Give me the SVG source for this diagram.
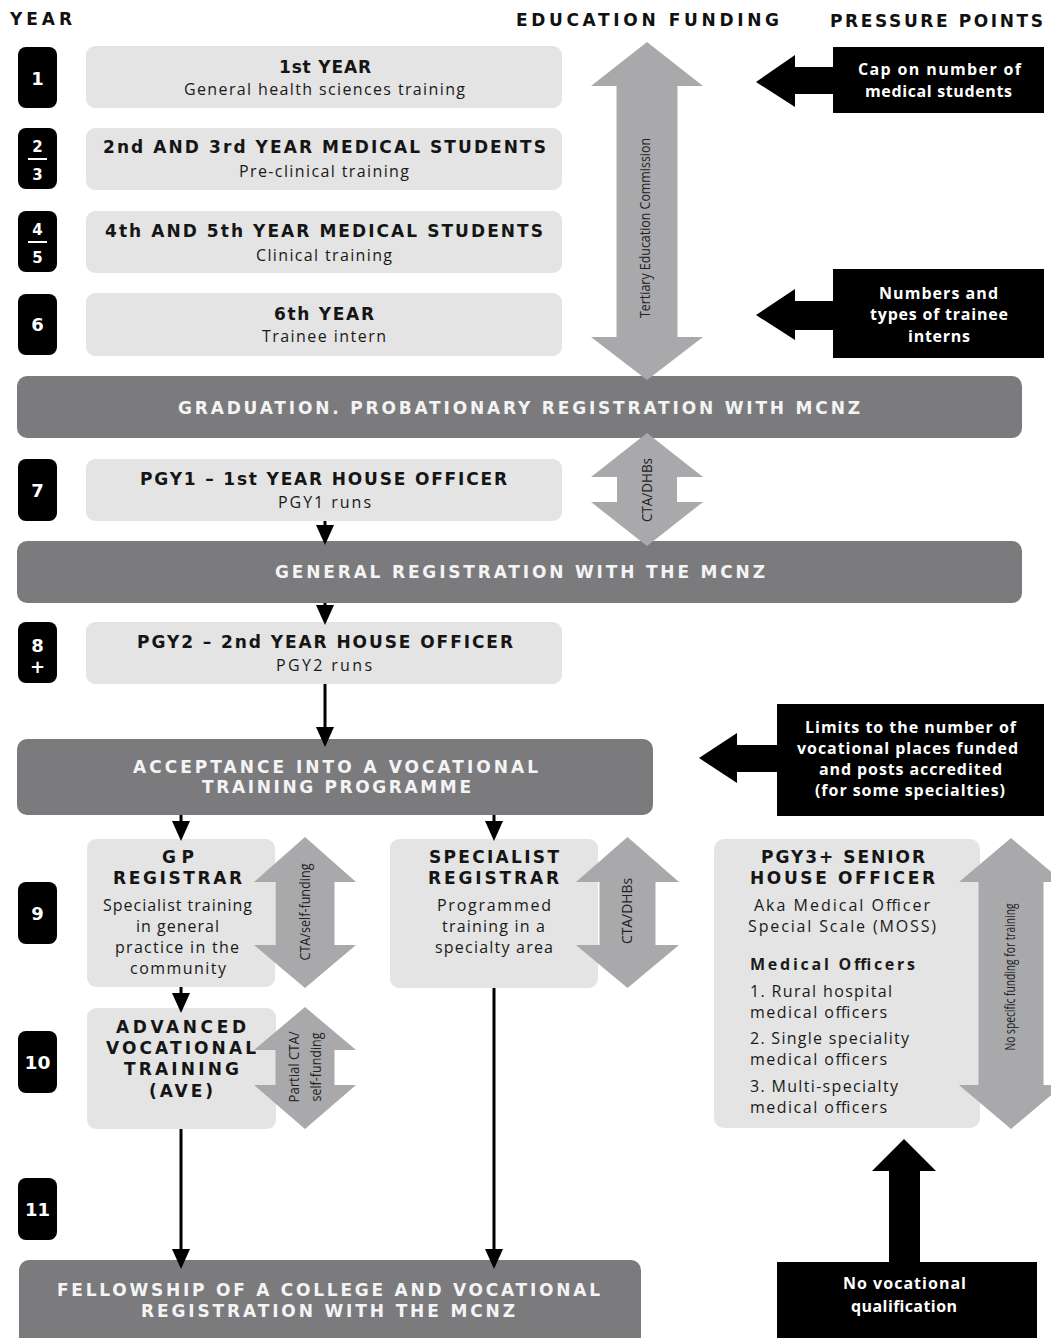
<svg xmlns="http://www.w3.org/2000/svg" width="1051" height="1338" viewBox="0 0 1051 1338">
<style>
text{font-family:"Open Sans","Liberation Sans",sans-serif}
.hd{font-family:"DejaVu Sans","Open Sans",sans-serif;font-size:17px;font-weight:bold;fill:#111}
.bt{font-family:"DejaVu Sans","Open Sans",sans-serif;font-size:17px;font-weight:bold;fill:#151515;text-anchor:middle}
.bs{font-size:16px;fill:#1a1a1a;text-anchor:middle}
.bl{font-size:16px;fill:#1a1a1a}
.bn{font-family:"DejaVu Sans","Open Sans",sans-serif;font-size:17px;font-weight:bold;fill:#f4f4f4;text-anchor:middle}
.pp{font-size:16px;font-weight:bold;fill:#fff;text-anchor:middle}
.yr{font-family:"DejaVu Sans","Open Sans",sans-serif;font-size:18px;font-weight:bold;fill:#fff;text-anchor:middle}
.ys{font-family:"DejaVu Sans","Open Sans",sans-serif;font-size:15px;font-weight:bold;fill:#fff;text-anchor:middle}
.rt{font-size:14px;fill:#222;text-anchor:middle}
.light{fill:#e3e4e3}
.dark{fill:#7b7b7e}
.blk{fill:#000}
.fund{fill:#a9a9ac}
.flow{stroke:#000;stroke-width:3;fill:none}
</style>
<defs>
<marker id="ah" markerUnits="userSpaceOnUse" markerWidth="20" markerHeight="18" viewBox="0 0 20 18" refX="10" refY="9" orient="auto">
<path d="M0,0 L20,9 L0,18 Z" fill="#000"/>
</marker>
</defs>
<rect width="1051" height="1338" fill="#fff"/>

<g id="headers">
<text class="hd" x="10" y="25" textLength="62" lengthAdjust="spacing">YEAR</text>
<text class="hd" x="516" y="26" textLength="263" lengthAdjust="spacing">EDUCATION FUNDING</text>
<text class="hd" x="830" y="27" textLength="213" lengthAdjust="spacing">PRESSURE POINTS</text>
</g>

<g id="years">
<g id="year-1"><rect x="18" y="47" width="39" height="61" rx="8" class="blk"/><text class="yr" x="37.5" y="85">1</text></g>
<g id="year-2-3"><rect x="18" y="128" width="39" height="61" rx="8" class="blk"/><text class="ys" x="37.5" y="152">2</text><line x1="28" y1="159" x2="47" y2="159" stroke="#fff" stroke-width="2"/><text class="ys" x="37.5" y="180">3</text></g>
<g id="year-4-5"><rect x="18" y="211" width="39" height="61" rx="8" class="blk"/><text class="ys" x="37.5" y="235">4</text><line x1="28" y1="242" x2="47" y2="242" stroke="#fff" stroke-width="2"/><text class="ys" x="37.5" y="263">5</text></g>
<g id="year-6"><rect x="18" y="294" width="39" height="61" rx="8" class="blk"/><text class="yr" x="37.5" y="331">6</text></g>
<g id="year-7"><rect x="18" y="459" width="39" height="62" rx="8" class="blk"/><text class="yr" x="37.5" y="497">7</text></g>
<g id="year-8"><rect x="18" y="622" width="39" height="61" rx="8" class="blk"/><text class="yr" font-size="17"><tspan x="37.5" y="652">8</tspan><tspan x="37.5" y="673">+</tspan></text></g>
<g id="year-9"><rect x="18" y="882" width="39" height="62" rx="8" class="blk"/><text class="yr" x="37.5" y="920">9</text></g>
<g id="year-10"><rect x="18" y="1031" width="39" height="62" rx="8" class="blk"/><text class="yr" x="37.5" y="1069" textLength="26" lengthAdjust="spacingAndGlyphs">10</text></g>
<g id="year-11"><rect x="18" y="1178" width="39" height="62" rx="8" class="blk"/><text class="yr" x="37.5" y="1216">11</text></g>
</g>

<g id="box-year1"><rect x="86" y="46" width="476" height="62" rx="9" class="light"/>
<text class="bt" x="325" y="73" textLength="92" lengthAdjust="spacing">1st YEAR</text>
<text class="bs" x="324.5" y="95" textLength="281" lengthAdjust="spacing">General health sciences training</text></g>

<g id="box-year2-3"><rect x="86" y="128" width="476" height="62" rx="9" class="light"/>
<text class="bt" x="324.5" y="153" textLength="443" lengthAdjust="spacing">2nd AND 3rd YEAR MEDICAL STUDENTS</text>
<text class="bs" x="324" y="177" textLength="170" lengthAdjust="spacing">Pre-clinical training</text></g>

<g id="box-year4-5"><rect x="86" y="211" width="476" height="62" rx="9" class="light"/>
<text class="bt" x="324" y="237" textLength="438" lengthAdjust="spacing">4th AND 5th YEAR MEDICAL STUDENTS</text>
<text class="bs" x="324" y="261" textLength="136" lengthAdjust="spacing">Clinical training</text></g>

<g id="box-year6"><rect x="86" y="293" width="476" height="63" rx="9" class="light"/>
<text class="bt" x="324" y="320" textLength="100" lengthAdjust="spacing">6th YEAR</text>
<text class="bs" x="324" y="342" textLength="124" lengthAdjust="spacing">Trainee intern</text></g>

<g id="band-graduation"><rect x="17" y="376" width="1005" height="62" rx="10" class="dark"/>
<text class="bn" x="519" y="414" textLength="682" lengthAdjust="spacing">GRADUATION. PROBATIONARY REGISTRATION WITH MCNZ</text></g>

<g id="box-pgy1"><rect x="86" y="459" width="476" height="62" rx="9" class="light"/>
<text class="bt" x="323.5" y="485" textLength="367" lengthAdjust="spacing">PGY1 – 1st YEAR HOUSE OFFICER</text>
<text class="bs" x="324.5" y="508" textLength="93" lengthAdjust="spacing">PGY1 runs</text></g>

<g id="band-general"><rect x="17" y="541" width="1005" height="62" rx="10" class="dark"/>
<text class="bn" x="520" y="578" textLength="490" lengthAdjust="spacing">GENERAL REGISTRATION WITH THE MCNZ</text></g>

<g id="box-pgy2"><rect x="86" y="622" width="476" height="62" rx="9" class="light"/>
<text class="bt" x="325" y="648" textLength="376" lengthAdjust="spacing">PGY2 – 2nd YEAR HOUSE OFFICER</text>
<text class="bs" x="324" y="671" textLength="96" lengthAdjust="spacing">PGY2 runs</text></g>

<g id="band-acceptance"><rect x="17" y="739" width="636" height="76" rx="10" class="dark"/>
<text class="bn" font-size="16"><tspan x="335.5" y="773" textLength="405" lengthAdjust="spacing">ACCEPTANCE INTO A VOCATIONAL</tspan><tspan x="336.5" y="793" textLength="269" lengthAdjust="spacing">TRAINING PROGRAMME</tspan></text></g>

<g id="box-gp"><rect x="87" y="839" width="188" height="148" rx="9" class="light"/>
<text class="bt" x="178" y="863" textLength="32" lengthAdjust="spacing">GP</text>
<text class="bt" x="177.5" y="884" textLength="129" lengthAdjust="spacing">REGISTRAR</text>
<text class="bs" x="177.5" y="911" textLength="149" lengthAdjust="spacing">Specialist training</text>
<text class="bs" x="177.5" y="932" textLength="83" lengthAdjust="spacing">in general</text>
<text class="bs" x="177" y="953" textLength="124" lengthAdjust="spacing">practice in the</text>
<text class="bs" x="178" y="974" textLength="96" lengthAdjust="spacing">community</text></g>

<g id="box-specialist"><rect x="390" y="839" width="208" height="149" rx="9" class="light"/>
<text class="bt" x="494" y="863" textLength="130" lengthAdjust="spacing">SPECIALIST</text>
<text class="bt" x="493.5" y="884" textLength="131" lengthAdjust="spacing">REGISTRAR</text>
<text class="bs" x="494" y="911" textLength="114" lengthAdjust="spacing">Programmed</text>
<text class="bs" x="493.5" y="932" textLength="103" lengthAdjust="spacing">training in a</text>
<text class="bs" x="494" y="953" textLength="118" lengthAdjust="spacing">specialty area</text></g>

<g id="box-ave"><rect x="87" y="1008" width="189" height="121" rx="9" class="light"/></g>

<g id="box-pgy3"><rect x="714" y="839" width="266" height="289" rx="10" class="light"/>
<text class="bt" x="843" y="863" textLength="164" lengthAdjust="spacing">PGY3+ SENIOR</text>
<text class="bt" x="842.5" y="884" textLength="185" lengthAdjust="spacing">HOUSE OFFICER</text>
<text class="bs" x="842" y="911" textLength="176" lengthAdjust="spacing">Aka Medical Officer</text>
<text class="bs" x="842" y="932" textLength="188" lengthAdjust="spacing">Special Scale (MOSS)</text>
<text class="bl" x="750" y="970" font-weight="bold" font-size="17" textLength="165" lengthAdjust="spacing">Medical Officers</text>
<text class="bl" x="750" y="997" textLength="142" lengthAdjust="spacing">1. Rural hospital</text>
<text class="bl" x="750" y="1018" textLength="137" lengthAdjust="spacing">medical officers</text>
<text class="bl" x="750" y="1044" textLength="159" lengthAdjust="spacing">2. Single speciality</text>
<text class="bl" x="750" y="1065" textLength="137" lengthAdjust="spacing">medical officers</text>
<text class="bl" x="750" y="1092" textLength="148" lengthAdjust="spacing">3. Multi-specialty</text>
<text class="bl" x="750" y="1113" textLength="137" lengthAdjust="spacing">medical officers</text></g>

<g id="band-fellowship"><rect x="19" y="1260" width="622" height="95" rx="10" class="dark"/>
<text class="bn" font-size="16"><tspan x="328.5" y="1296" textLength="543" lengthAdjust="spacing">FELLOWSHIP OF A COLLEGE AND VOCATIONAL</tspan><tspan x="328" y="1317" textLength="374" lengthAdjust="spacing">REGISTRATION WITH THE MCNZ</tspan></text></g>

<g id="funding">
<g id="fund-tec"><path class="fund" d="M647,42 L703,86 L677.5,86 L677.5,337 L703,337 L647,380 L591,337 L616.5,337 L616.5,86 L591,86 Z"/>
<text class="rt" transform="translate(645,228) rotate(-90)" x="0" y="5" textLength="180" lengthAdjust="spacingAndGlyphs">Tertiary Education Commission</text></g>
<g id="fund-cta-dhb1"><path class="fund" d="M647,433 L703,477 L677,477 L677,502 L703,502 L647,546 L591,502 L617,502 L617,477 L591,477 Z"/>
<text class="rt" transform="translate(647,490) rotate(-90)" x="0" y="5" textLength="64" lengthAdjust="spacingAndGlyphs">CTA/DHBs</text></g>
<g id="fund-cta-self"><path class="fund" d="M305,837 L356,882 L334.5,882 L334.5,945 L356,945 L305,988 L254,945 L275.5,945 L275.5,882 L254,882 Z"/>
<text class="rt" transform="translate(305,912) rotate(-90)" x="0" y="5" textLength="97" lengthAdjust="spacingAndGlyphs">CTA/self-funding</text></g>
<g id="fund-cta-dhb2"><path class="fund" d="M627.5,837 L679,882 L655.5,882 L655.5,945 L679,945 L627.5,988 L576,945 L599.5,945 L599.5,882 L576,882 Z"/>
<text class="rt" transform="translate(627,911) rotate(-90)" x="0" y="5" textLength="66" lengthAdjust="spacingAndGlyphs">CTA/DHBs</text></g>
<g id="fund-partial"><path class="fund" d="M305,1007 L356,1050 L334.5,1050 L334.5,1085 L356,1085 L305,1129 L254,1085 L275.5,1085 L275.5,1050 L254,1050 Z"/>
<text class="rt" transform="translate(294,1067) rotate(-90)" x="0" y="5" textLength="71" lengthAdjust="spacingAndGlyphs">Partial CTA/</text>
<text class="rt" transform="translate(316,1067) rotate(-90)" x="0" y="5" textLength="69" lengthAdjust="spacingAndGlyphs">self-funding</text></g>
<g id="fund-none"><path class="fund" d="M1011,838 L1063,882 L1043.5,882 L1043.5,1085 L1063,1085 L1011,1129 L959,1085 L978.5,1085 L978.5,882 L959,882 Z"/>
<text class="rt" transform="translate(1010,977) rotate(-90)" x="0" y="5" textLength="147" lengthAdjust="spacingAndGlyphs">No specific funding for training</text></g>
</g>

<g id="box-ave-text">
<text class="bt" x="181" y="1033" textLength="130" lengthAdjust="spacing">ADVANCED</text>
<text class="bt" x="181" y="1054" textLength="150" lengthAdjust="spacing">VOCATIONAL</text>
<text class="bt" x="181.5" y="1075" textLength="115" lengthAdjust="spacing">TRAINING</text>
<text class="bt" x="181" y="1097" textLength="64" lengthAdjust="spacing">(AVE)</text>
</g>

<g id="pressure">
<g id="pp-cap"><path class="blk" d="M756,82 L795,55 L795,67 L834,67 L834,94 L795,94 L795,107 Z"/>
<rect x="833" y="47" width="211" height="66" class="blk"/>
<text class="pp" x="939.5" y="75" textLength="163" lengthAdjust="spacing">Cap on number of</text>
<text class="pp" x="938.5" y="97" textLength="147" lengthAdjust="spacing">medical students</text></g>
<g id="pp-interns"><path class="blk" d="M756,315 L795,289 L795,301 L834,301 L834,330 L795,330 L795,340 Z"/>
<rect x="833" y="269" width="211" height="89" class="blk"/>
<text class="pp" x="938.5" y="299" textLength="119" lengthAdjust="spacing">Numbers and</text>
<text class="pp" x="939" y="320" textLength="138" lengthAdjust="spacing">types of trainee</text>
<text class="pp" x="939" y="342" textLength="62" lengthAdjust="spacing">interns</text></g>
<g id="pp-limits"><path class="blk" d="M699,758 L737,733 L737,745 L778,745 L778,772 L737,772 L737,783 Z"/>
<rect x="777" y="704" width="267" height="112" class="blk"/>
<text class="pp" x="910.5" y="733" textLength="211" lengthAdjust="spacing">Limits to the number of</text>
<text class="pp" x="907.5" y="754" textLength="221" lengthAdjust="spacing">vocational places funded</text>
<text class="pp" x="910.5" y="775" textLength="183" lengthAdjust="spacing">and posts accredited</text>
<text class="pp" x="910" y="796" textLength="190" lengthAdjust="spacing">(for some specialties)</text></g>
<g id="pp-novoc"><path class="blk" d="M904,1139 L936,1171 L920,1171 L920,1263 L889,1263 L889,1171 L872,1171 Z"/>
<rect x="777" y="1262" width="260" height="80" class="blk"/>
<text class="pp" x="904.5" y="1289" textLength="123" lengthAdjust="spacing">No vocational</text>
<text class="pp" x="904" y="1312" textLength="106" lengthAdjust="spacing">qualification</text></g>
</g>

<g id="connectors">
<line class="flow" x1="325" y1="521" x2="325" y2="535" marker-end="url(#ah)"/>
<line class="flow" x1="325" y1="603" x2="325" y2="615" marker-end="url(#ah)"/>
<line class="flow" x1="325" y1="684" x2="325" y2="737" marker-end="url(#ah)"/>
<line class="flow" x1="181" y1="815" x2="181" y2="831" marker-end="url(#ah)"/>
<line class="flow" x1="494" y1="815" x2="494" y2="831" marker-end="url(#ah)"/>
<line class="flow" x1="181" y1="987" x2="181" y2="1003" marker-end="url(#ah)"/>
<line class="flow" x1="181" y1="1129" x2="181" y2="1259" marker-end="url(#ah)"/>
<line class="flow" x1="494" y1="988" x2="494" y2="1259" marker-end="url(#ah)"/>
</g>
</svg>
